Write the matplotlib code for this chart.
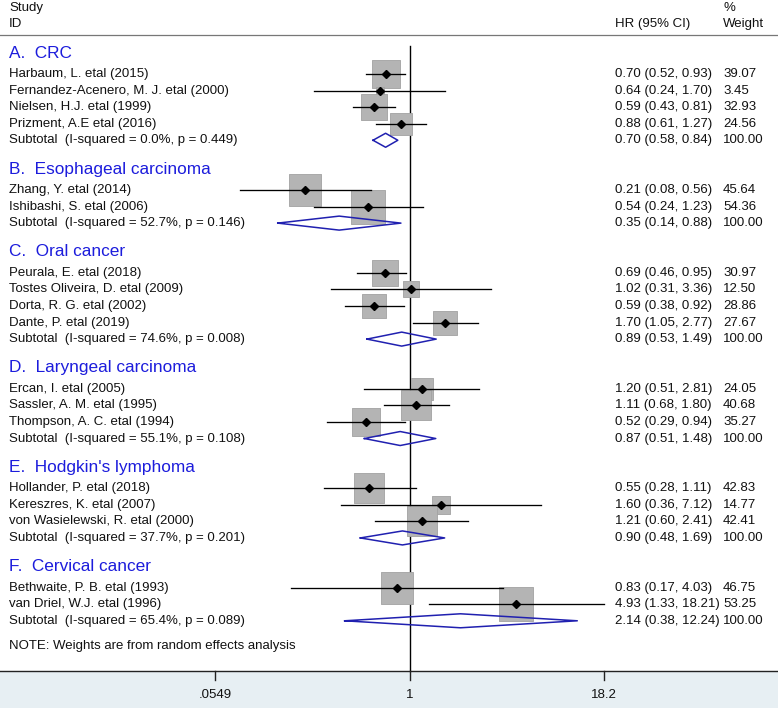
import numpy as np
import matplotlib
matplotlib.use("Agg")
import matplotlib.pyplot as plt
from matplotlib.transforms import blended_transform_factory

# ---------------- data ----------------
groups = ["A.  CRC", "B.  Esophageal carcinoma", "C.  Oral cancer",
          "D.  Laryngeal carcinoma", "E.  Hodgkin's lymphoma", "F.  Cervical cancer"]
studies = ["Harbaum, L. etal (2015)", "Fernandez-Acenero, M. J. etal (2000)",
           "Nielsen, H.J. etal (1999)", "Prizment, A.E etal (2016)",
           "Zhang, Y. etal (2014)", "Ishibashi, S. etal (2006)",
           "Peurala, E. etal (2018)", "Tostes Oliveira, D. etal (2009)",
           "Dorta, R. G. etal (2002)", "Dante, P. etal (2019)",
           "Ercan, I. etal (2005)", "Sassler, A. M. etal (1995)", "Thompson, A. C. etal (1994)",
           "Hollander, P. etal (2018)", "Kereszres, K. etal (2007)",
           "von Wasielewski, R. etal (2000)",
           "Bethwaite, P. B. etal (1993)", "van Driel, W.J. etal (1996)"]
study_group = [0, 0, 0, 0, 1, 1, 2, 2, 2, 2, 3, 3, 3, 4, 4, 4, 5, 5]
hr = [0.70, 0.64, 0.59, 0.88, 0.21, 0.54, 0.69, 1.02, 0.59, 1.70,
      1.20, 1.11, 0.52, 0.55, 1.60, 1.21, 0.83, 4.93]
lo = [0.52, 0.24, 0.43, 0.61, 0.08, 0.24, 0.46, 0.31, 0.38, 1.05,
      0.51, 0.68, 0.29, 0.28, 0.36, 0.60, 0.17, 1.33]
hi = [0.93, 1.70, 0.81, 1.27, 0.56, 1.23, 0.95, 3.36, 0.92, 2.77,
      2.81, 1.80, 0.94, 1.11, 7.12, 2.41, 4.03, 18.21]
weight = [39.07, 3.45, 32.93, 24.56, 45.64, 54.36, 30.97, 12.50, 28.86, 27.67,
          24.05, 40.68, 35.27, 42.83, 14.77, 42.41, 46.75, 53.25]
sub_hr = [0.70, 0.35, 0.89, 0.87, 0.90, 2.14]
sub_lo = [0.58, 0.14, 0.53, 0.51, 0.48, 0.38]
sub_hi = [0.84, 0.88, 1.49, 1.48, 1.69, 12.24]
sub_i2 = [0.0, 52.7, 74.6, 55.1, 37.7, 65.4]
sub_p = ["0.449", "0.146", "0.008", "0.108", "0.201", "0.089"]
xticks = [0.0549, 1, 18.2]
xtick_labels = [".0549", "1", "18.2"]
note = "NOTE: Weights are from random effects analysis"

# ---------------- layout ----------------
W, H = 778, 708
PX_PER_LN = 67.0
X_ONE = 409.5
ROW = 16.57
Y0 = 7.7
FS = 9.5
HFS = 12.4
TEXT_C = "#111111"
BLUE = "#1c1cdc"
DIAM_C = "#2020b0"
BAND = "#e7eff3"

plt.rcParams['font.family'] = ['Liberation Sans', 'DejaVu Sans']

fig = plt.figure(figsize=(W / 100, H / 100), dpi=100)
ax = fig.add_axes([0, 0, 1, 1])
ax.set_xscale('log')
ax.set_xlim(np.exp(-X_ONE / PX_PER_LN), np.exp((W - X_ONE) / PX_PER_LN))
ax.set_ylim((H - Y0) / ROW, -Y0 / ROW)
ax.axis('off')
tr = blended_transform_factory(ax.transAxes, ax.transData)


def px(x):
    return x / W


def lbl(x, y, s, **kw):
    kw.setdefault('fontsize', FS)
    kw.setdefault('color', TEXT_C)
    ax.text(px(x), y, s, transform=tr, ha='left', va='center', **kw)


# header
lbl(9, 0, "Study")
lbl(9, 1, "ID")
lbl(615, 1, "HR (95% CI)")
lbl(723, 0, "%")
lbl(723, 1, "Weight")
ax.axhline(1.62, color='#777777', lw=0.9)

# rows
r = 3
head_shift = -4.3 / ROW
study_rows = []
sub_rows = []
for g, gname in enumerate(groups):
    lbl(9, r + head_shift, gname, fontsize=HFS, color=BLUE)
    r += 1
    for i, sg in enumerate(study_group):
        if sg == g:
            study_rows.append(r)
            r += 1
    sub_rows.append(r)
    r += 2

axis_row = sub_rows[-1] + 3
note_row = sub_rows[-1] + 1.5

# reference line
ax.plot([1, 1], [2.3, axis_row], color='black', lw=1.0, zorder=1)

# studies
for i, name in enumerate(studies):
    y = study_rows[i]
    lbl(9, y, name)
    lbl(615, y, f"{hr[i]:.2f} ({lo[i]:.2f}, {hi[i]:.2f})")
    lbl(723, y, f"{weight[i]:.2f}")
    side_pt = 4.6 * np.sqrt(weight[i]) * 0.72
    ax.scatter([hr[i]], [y], s=side_pt ** 2, marker='s', facecolor='#b4b4b4',
               edgecolor='#a2a2a2', linewidth=0.6, zorder=2)
    ax.plot([lo[i], hi[i]], [y, y], color='black', lw=0.95, zorder=3)
    ax.plot([hr[i]], [y], marker='D', markersize=4.3, color='black', zorder=4)

# subtotals
hh = 7.0 / ROW
for g in range(len(groups)):
    y = sub_rows[g]
    lbl(9, y, f"Subtotal  (I-squared = {sub_i2[g]:.1f}%, p = {sub_p[g]})")
    lbl(615, y, f"{sub_hr[g]:.2f} ({sub_lo[g]:.2f}, {sub_hi[g]:.2f})")
    lbl(723, y, "100.00")
    xs = [sub_lo[g], sub_hr[g], sub_hi[g], sub_hr[g], sub_lo[g]]
    ys = [y, y - hh, y, y + hh, y]
    ax.plot(xs, ys, color=DIAM_C, lw=1.1, zorder=5)

lbl(9, note_row, note)

# bottom axis band
ax.axhspan(axis_row, (H - Y0) / ROW + 1, color=BAND, zorder=0, lw=0)
ax.axhline(axis_row, color='#222222', lw=1.0)
for t, tl in zip(xticks, xtick_labels):
    ax.plot([t, t], [axis_row, axis_row + 9.5 / ROW], color='#222222', lw=1.0)
    ax.text(t, axis_row + 24 / ROW, tl, ha='center', va='center',
            fontsize=FS, color=TEXT_C)

fig.savefig("out.png", dpi=100)
